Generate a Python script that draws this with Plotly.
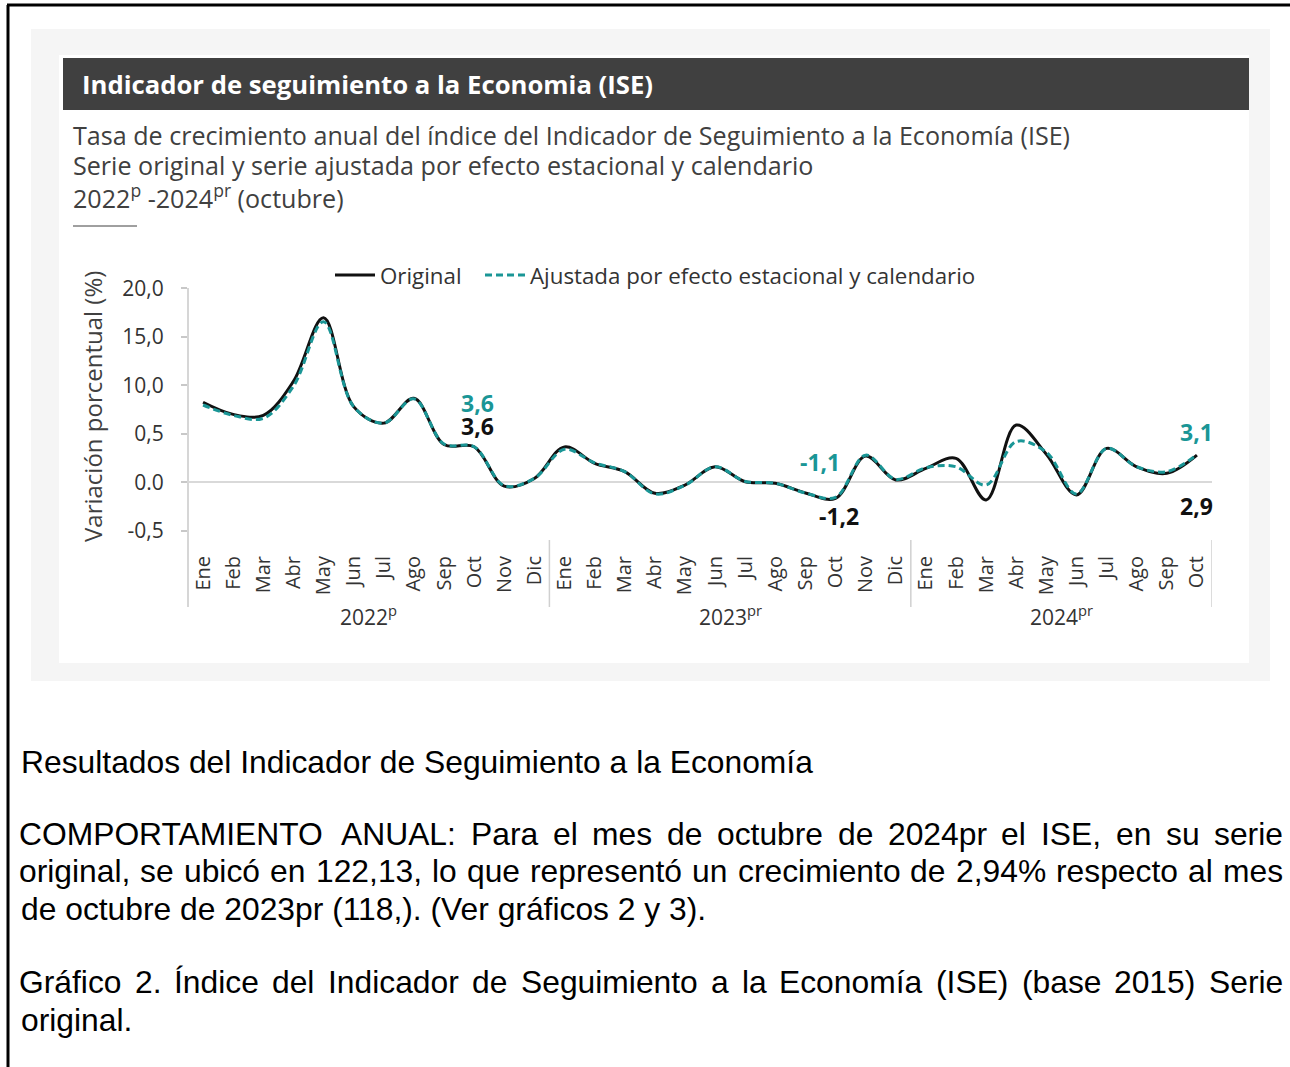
import plotly.graph_objects as go

# ---------------- data ----------------
months = ["Ene", "Feb", "Mar", "Abr", "May", "Jun", "Jul", "Ago", "Sep", "Oct", "Nov", "Dic"]
x_labels = months * 2 + months[:10]
year_labels = ["2022<sup>p</sup>", "2023<sup>pr</sup>", "2024<sup>pr</sup>"]
year_month_counts = [12, 12, 10]

original = [8.25, 7.0, 6.9, 10.4, 16.97, 7.8, 6.1, 8.66, 3.9, 3.67, -0.4, 0.4,
            3.65, 1.96, 1.1, -1.13, -0.28, 1.6, 0.06, -0.1, -1.1, -1.65, 2.7, 0.24,
            1.44, 2.47, -1.82, 5.9, 2.9, -1.3, 3.5, 1.6, 0.93, 2.8]
ajustada = [7.97, 6.9, 6.6, 9.9, 16.55, 7.8, 6.1, 8.6, 3.95, 3.67, -0.35, 0.4,
            3.4, 2.0, 1.1, -1.2, -0.3, 1.6, 0.1, -0.1, -1.1, -1.55, 2.8, 0.3,
            1.5, 1.6, -0.28, 4.2, 3.1, -1.2, 3.5, 1.6, 1.1, 2.85]

ytick_vals = [-5, 0, 5, 10, 15, 20]
ytick_text = ["-0,5", "0.0", "0,5", "10,0", "15,0", "20,0"]

# ---------------- geometry helpers ----------------
W, H = 1290, 1067
L, R, T, B = 188, 1212, 282, 545


def PX(x):
    return (x - L) / (R - L)


def PY(y):
    return (B - y) / (B - T)


TEAL = "#1a9696"
DARK = "#404040"
TXT = "#333333"

fig = go.Figure()
fig.add_trace(go.Scatter(
    x=list(range(len(original))), y=original, mode="lines", name="Original", legend="legend",
    line=dict(color="#111111", width=3, shape="spline", smoothing=1.0),
))
fig.add_trace(go.Scatter(
    x=list(range(len(ajustada))), y=ajustada, mode="lines", legend="legend2",
    name="Ajustada por efecto estacional y calendario",
    line=dict(color=TEAL, width=3, dash="7px,4px", shape="spline", smoothing=1.0),
))

shapes = []
# outer frame lines
shapes.append(dict(type="line", xref="paper", yref="paper", x0=PX(8), x1=PX(8), y0=PY(1070), y1=PY(5),
                   line=dict(color="black", width=3), layer="below"))
shapes.append(dict(type="line", xref="paper", yref="paper", x0=PX(7), x1=PX(1292), y0=PY(5), y1=PY(5),
                   line=dict(color="black", width=3), layer="below"))
# grey panel
shapes.append(dict(type="rect", xref="paper", yref="paper", x0=PX(31), x1=PX(1270), y0=PY(681), y1=PY(29),
                   fillcolor="#f5f5f5", line=dict(width=0), layer="below"))
# white panel
shapes.append(dict(type="rect", xref="paper", yref="paper", x0=PX(59), x1=PX(1249), y0=PY(663), y1=PY(55),
                   fillcolor="white", line=dict(width=0), layer="below"))
# header bar
shapes.append(dict(type="rect", xref="paper", yref="paper", x0=PX(63), x1=PX(1249), y0=PY(110), y1=PY(58),
                   fillcolor=DARK, line=dict(width=0), layer="below"))
# short rule under subtitle
shapes.append(dict(type="line", xref="paper", yref="paper", x0=PX(73), x1=PX(137), y0=PY(226), y1=PY(226),
                   line=dict(color=DARK, width=1), layer="below"))
# y axis line (extends down through the month labels)
shapes.append(dict(type="line", xref="paper", yref="paper", x0=PX(188), x1=PX(188), y0=PY(607), y1=PY(288),
                   line=dict(color="#c8c8c8", width=1.5), layer="below"))
# year separators
pos = -0.5
for n in year_month_counts:
    pos += n
    shapes.append(dict(type="line", xref="x", yref="paper", x0=pos, x1=pos, y0=PY(607), y1=PY(540),
                       line=dict(color="#d0d0d0", width=1.5), layer="below"))

annotations = []
# header title
annotations.append(dict(text="<b>Indicador de seguimiento a la Economia (ISE)</b>", xref="paper", yref="paper",
                        x=PX(80), y=PY(85), xanchor="left", yanchor="middle", showarrow=False,
                        font=dict(family="Open Sans", size=25.7, color="white")))
subs = ["Tasa de crecimiento anual del índice del Indicador de Seguimiento a la Economía (ISE)",
        "Serie original y serie ajustada por efecto estacional y calendario",
        "2022<sup>p</sup> -2024<sup>pr</sup> (octubre)"]
for s, yy in zip(subs, [135, 165, 196]):
    annotations.append(dict(text=s, xref="paper", yref="paper", x=PX(71), y=PY(yy), xanchor="left",
                            yanchor="middle", showarrow=False,
                            font=dict(family="Open Sans", size=25.1, color=DARK)))
# y axis title
annotations.append(dict(text="Variación porcentual (%)", xref="paper", yref="paper", x=PX(92), y=PY(407),
                        textangle=-90, showarrow=False, xanchor="center", yanchor="middle",
                        font=dict(family="Open Sans", size=24, color=DARK)))
# year labels
start = -0.5
for lab_text, n in zip(year_labels, year_month_counts):
    annotations.append(dict(text=lab_text, xref="x", yref="paper", x=start + n / 2, y=PY(615), showarrow=False,
                            xanchor="center", yanchor="middle",
                            font=dict(family="Open Sans", size=21, color=TXT)))
    start += n


# data labels
def lab(text, idx, ypix, color):
    annotations.append(dict(text="<b>" + text + "</b>", xref="x", yref="paper", x=idx, y=PY(ypix),
                            showarrow=False, xanchor="center", yanchor="middle",
                            font=dict(family="Open Sans", size=23, color=color)))


lab("3,6", 9.1, 403, TEAL)
lab("3,6", 9.1, 426, "#111111")
lab("-1,1", 20.5, 462, TEAL)
lab("-1,2", 21.1, 516, "#111111")
lab("3,1", 33.0, 432, TEAL)
lab("2,9", 33.0, 506, "#111111")

# ---------------- body text (justified) ----------------
AW = {' ': 278, 'a': 556, 'b': 556, 'c': 500, 'd': 556, 'e': 556, 'f': 278, 'g': 556, 'h': 556, 'i': 222,
      'j': 222, 'k': 500, 'l': 222, 'm': 833, 'n': 556, 'o': 556, 'p': 556, 'q': 556, 'r': 333, 's': 500,
      't': 278, 'u': 556, 'v': 500, 'w': 722, 'x': 500, 'y': 500, 'z': 500,
      'A': 667, 'B': 667, 'C': 722, 'D': 722, 'E': 667, 'F': 611, 'G': 778, 'H': 722, 'I': 278, 'J': 500,
      'K': 667, 'L': 556, 'M': 833, 'N': 722, 'O': 778, 'P': 667, 'Q': 778, 'R': 722, 'S': 667, 'T': 611,
      'U': 722, 'V': 667, 'W': 944, 'X': 667, 'Y': 667, 'Z': 611,
      ',': 278, '.': 278, ':': 278, '(': 333, ')': 333, '%': 889, '-': 333,
      'á': 556, 'é': 556, 'í': 278, 'ó': 556, 'ú': 556, 'Í': 278}
BODY = 31.8


def tw(s):
    return sum(AW.get(c, 556) for c in s) * BODY / 1000.0


def body_line(text, ypix, justify=False, x0=19, x1=1283):
    if not justify:
        annotations.append(dict(text=text, xref="paper", yref="paper", x=PX(x0), y=PY(ypix), xanchor="left",
                                yanchor="middle", showarrow=False,
                                font=dict(family="Liberation Sans, Arial", size=BODY, color="black")))
        return
    words = text.split(" ")
    total = sum(tw(w) for w in words)
    gap = (x1 - x0 - total) / (len(words) - 1)
    x = x0
    for w in words:
        annotations.append(dict(text=w, xref="paper", yref="paper", x=PX(x), y=PY(ypix), xanchor="left",
                                yanchor="middle", showarrow=False, borderpad=0, borderwidth=0,
                                font=dict(family="Liberation Sans, Arial", size=BODY, color="black")))
        x += tw(w) + gap


body_line("Resultados del Indicador de Seguimiento a la Economía", 762)
body_line("COMPORTAMIENTO ANUAL: Para el mes de octubre de 2024pr el ISE, en su serie", 834, True)
body_line("original, se ubicó en 122,13, lo que representó un crecimiento de 2,94% respecto al mes", 871, True)
body_line("de octubre de 2023pr (118,). (Ver gráficos 2 y 3).", 909)
body_line("Gráfico 2. Índice del Indicador de Seguimiento a la Economía (ISE) (base 2015) Serie", 982, True)
body_line("original.", 1020)

legend_common = dict(orientation="h", yanchor="top", font=dict(family="Open Sans", size=22.3, color=TXT),
                     bgcolor="rgba(0,0,0,0)", itemwidth=40, tracegroupgap=0)

fig.update_layout(
    width=W, height=H,
    margin=dict(l=L, r=W - R, t=T, b=H - B, pad=0),
    paper_bgcolor="white", plot_bgcolor="rgba(0,0,0,0)",
    font=dict(family="Open Sans", color=TXT),
    shapes=shapes, annotations=annotations,
    showlegend=True,
    legend=dict(x=PX(330), y=PY(254), xanchor="left", **legend_common),
    legend2=dict(x=PX(480), y=PY(254), xanchor="left", **legend_common),
    xaxis=dict(range=[-0.5, 33.5], tickmode="array", tickvals=list(range(len(x_labels))), ticktext=x_labels,
               tickangle=-90, showgrid=False, zeroline=False, showline=False, ticks="",
               tickfont=dict(family="Open Sans", size=20, color=TXT), ticklabelstandoff=6, fixedrange=True),
    yaxis=dict(range=[-(B - 482.3) / 9.7, (482.3 - T) / 9.7], tickmode="array", tickvals=ytick_vals,
               ticktext=ytick_text, showgrid=False, zeroline=True, zerolinecolor="#d9d9d9", zerolinewidth=1.5,
               showline=False, ticks="outside", ticklen=6, tickcolor="#c8c8c8", tickwidth=1.5,
               tickfont=dict(family="Open Sans", size=21, color=TXT), ticklabelstandoff=13, fixedrange=True),
)

fig.write_html("out.html", config={"displayModeBar": False},
               post_script="document.body.style.margin='0';document.body.style.overflow='hidden';")
